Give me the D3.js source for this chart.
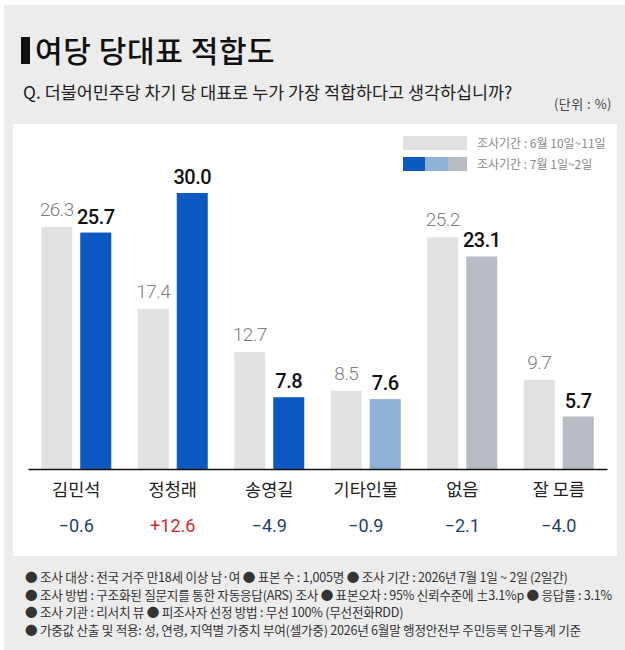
<!DOCTYPE html>
<html>
<head>
<meta charset="utf-8">
<script src="https://cdn.jsdelivr.net/npm/d3@7"></script>
<style>
  body { margin: 0; background: #fff; }
  svg text { font-family: "Noto Sans CJK KR", "Noto Sans", sans-serif; }
  svg text.num { font-family: Roboto, "Noto Sans CJK KR", sans-serif; }
</style>
</head>
<body>
<svg id="chart" width="625" height="650"></svg>
<script>
// 여당 당대표 적합도 - grouped bars, two survey rounds
var categories = ['김민석', '정청래', '송영길', '기타인물', '없음', '잘 모름']
var juneValues = [26.3, 17.4, 12.7, 8.5, 25.2, 9.7]
var julyValues = [25.7, 30.0, 7.8, 7.6, 23.1, 5.7]
var changes = ['-0.6', '+12.6', '-4.9', '-0.9', '-2.1', '-4.0']
var legendLabels = ['조사기간 : 6월 10일~11일', '조사기간 : 7월 1일~2일']
var notes = [
	'● 조사 대상 : 전국 거주 만18세 이상 남·여  ● 표본 수 : 1,005명 ● 조사 기간 : 2026년 7월 1일 ~ 2일 (2일간)',
	'● 조사 방법 : 구조화된 질문지를 통한 자동응답(ARS) 조사 ● 표본오차 : 95% 신뢰수준에 ±3.1%p  ● 응답률 : 3.1%',
	'● 조사 기관 : 리서치 뷰  ● 피조사자 선정 방법 : 무선 100% (무선전화RDD)',
	'● 가중값 산출 및 적용: 성, 연령, 지역별 가중치 부여(셀가중) 2026년 6월말 행정안전부 주민등록 인구통계 기준'
]

/* styles */
var oldColor = '#e1e1e1'
var newColors = ['#0b59c1', '#0b59c1', '#0b59c1', '#8fb1d8', '#b7bcc3', '#b7bcc3']
var upColor = '#cc2a2f'
var downColor = '#1e416f'

var svg = d3.select('#chart')

/* page background and white chart panel */
svg.append('rect').attr('x', 4).attr('y', 5).attr('width', 621).attr('height', 645).attr('fill', '#ececec')
svg.append('rect').attr('x', 13).attr('y', 124).attr('width', 604).attr('height', 432).attr('fill', '#fff')

/* title block */
svg.append('rect').attr('x', 21).attr('y', 37).attr('width', 9).attr('height', 27).attr('fill', '#111')
svg.append('text').attr('x', 35).attr('y', 62)
	.style('font-size', '30px').style('font-weight', 500).style('letter-spacing', '0.6px').attr('fill', '#111')
	.text('여당 당대표 적합도')
svg.append('text').attr('x', 23).attr('y', 99)
	.style('font-size', '17.4px').attr('fill', '#222')
	.text('Q. 더불어민주당 차기 당 대표로 누가 가장 적합하다고 생각하십니까?')
svg.append('text').attr('x', 612).attr('y', 109).attr('text-anchor', 'end')
	.style('font-size', '13px').style('letter-spacing', '0.5px').attr('fill', '#444')
	.text('(단위 : %)')

/* scales */
var x = d3.scaleBand().domain(categories).range([28, 607])
var x1 = d3.scaleBand().domain(['old', 'new'])
	.range([x.bandwidth() / 2 - 35, x.bandwidth() / 2 + 35]).paddingInner(0.205)
var y = d3.scaleLinear().domain([0, 30]).range([469, 193])

var groups = svg.selectAll('g.group').data(categories).enter().append('g')
	.attr('class', 'group')
	.attr('transform', function(d) { return 'translate(' + x(d) + ',0)' })

groups.append('rect')
	.attr('x', x1('old')).attr('width', x1.bandwidth())
	.attr('y', function(d, i) { return y(juneValues[i]) })
	.attr('height', function(d, i) { return y(0) - y(juneValues[i]) })
	.attr('fill', oldColor)

groups.append('rect')
	.attr('x', x1('new')).attr('width', x1.bandwidth())
	.attr('y', function(d, i) { return y(julyValues[i]) })
	.attr('height', function(d, i) { return y(0) - y(julyValues[i]) })
	.attr('fill', function(d, i) { return newColors[i] })

groups.append('text').attr('class', 'num')
	.attr('x', x1('old') + x1.bandwidth() / 2)
	.attr('y', function(d, i) { return y(juneValues[i]) - 11 })
	.attr('text-anchor', 'middle')
	.style('font-size', '19px').style('font-weight', 300).style('letter-spacing', '-0.5px').attr('fill', '#7d7d7d')
	.text(function(d, i) { return juneValues[i].toFixed(1) })

groups.append('text').attr('class', 'num')
	.attr('x', x1('new') + x1.bandwidth() / 2)
	.attr('y', function(d, i) { return y(julyValues[i]) - 9 })
	.attr('text-anchor', 'middle')
	.style('font-size', '20px').style('font-weight', 500).style('letter-spacing', '-0.5px').attr('fill', '#111')
	.text(function(d, i) { return julyValues[i].toFixed(1) })

/* change from previous round */
groups.append('text').attr('class', 'num')
	.attr('x', x.bandwidth() / 2).attr('y', 532)
	.attr('text-anchor', 'middle')
	.style('font-size', '18px')
	.attr('fill', function(d, i) { return changes[i][0] == '+' ? upColor : downColor })
	.text(function(d, i) { return changes[i].replace('-', '\u2212') })

/* category axis */
var axis = svg.append('g').attr('transform', 'translate(0,' + y(0) + ')')
	.call(d3.axisBottom(x).tickSize(0).tickSizeOuter(0).tickPadding(0))
axis.select('.domain').attr('stroke', '#111').attr('stroke-width', 1.3)
axis.selectAll('.tick text')
	.attr('y', 27).attr('dy', 0)
	.style('font-family', '"Noto Sans CJK KR", sans-serif')
	.style('font-size', '17.5px').attr('fill', '#222')

/* legend */
var legend = svg.append('g').attr('transform', 'translate(403,136)')
legend.append('rect').attr('width', 64).attr('height', 14).attr('fill', oldColor)
var swatch = [newColors[0], newColors[3], newColors[4]]
legend.selectAll('rect.sw').data(swatch).enter().append('rect')
	.attr('class', 'sw')
	.attr('x', function(d, i) { return [0, 22, 45][i] })
	.attr('y', 21)
	.attr('width', function(d, i) { return [22, 23, 19][i] })
	.attr('height', 14)
	.attr('fill', function(d) { return d })
legend.selectAll('text').data(legendLabels).enter().append('text')
	.attr('x', 74).attr('y', function(d, i) { return 12 + i * 21 })
	.style('font-size', '12px').attr('fill', '#888')
	.text(function(d) { return d })

/* footnotes */
svg.selectAll('text.note').data(notes).enter().append('text')
	.attr('class', 'note')
	.attr('x', 25).attr('y', function(d, i) { return 582 + i * 17.6 })
	.style('font-size', '12.6px').style('letter-spacing', '-0.25px').attr('fill', '#333')
	.text(function(d) { return d })
</script>
</body>
</html>
